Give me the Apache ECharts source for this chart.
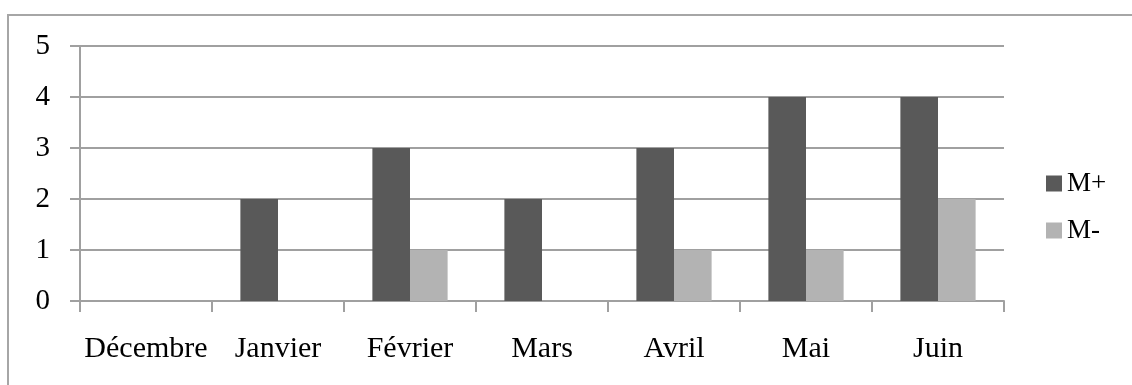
<!DOCTYPE html>
<html><head><meta charset="utf-8">
<script src="https://cdn.jsdelivr.net/npm/echarts@6/dist/echarts.min.js"></script>
<style>html,body{margin:0;padding:0;background:#fff}#c{width:1132px;height:385px}</style>
</head><body><div id="c"></div>
<script>
const categories = ['Décembre','Janvier','Février','Mars','Avril','Mai','Juin'];
const mPlus = [0,2,3,2,3,4,4];
const mMinus = [0,0,1,0,1,1,2];
const seriesNames = ['M+','M-'];
const font = '"Liberation Serif","Times New Roman",serif';
const chart = echarts.init(document.getElementById('c'));
chart.setOption({
  animation:false,
  backgroundColor:'#fff',
  graphic:[{type:'rect',shape:{x:8,y:15,width:1140,height:400},style:{fill:'none',stroke:'#a6a6a6',lineWidth:2},silent:true,z:-1}],
  grid:{left:80,right:128,top:46,bottom:84,containLabel:false},
  legend:{orient:'vertical',left:1046,top:170,padding:0,itemWidth:16,itemHeight:16,itemGap:20,icon:'rect',
    textStyle:{fontFamily:font,fontSize:27,color:'#000'},data:seriesNames},
  xAxis:{type:'category',data:categories,
    axisLine:{lineStyle:{color:'#a0a0a0',width:2}},
    axisTick:{show:true,length:11,alignWithLabel:false,lineStyle:{color:'#a0a0a0',width:2}},
    axisLabel:{fontFamily:font,fontSize:30,color:'#000',margin:33,interval:0}},
  yAxis:{type:'value',min:0,max:5,interval:1,
    axisLine:{show:true,lineStyle:{color:'#a0a0a0',width:2}},
    axisTick:{show:true,length:10,lineStyle:{color:'#a0a0a0',width:2}},
    splitLine:{lineStyle:{color:'#a0a0a0',width:2}},
    axisLabel:{fontFamily:font,fontSize:29,color:'#000',margin:30}},
  series:[
    {name:seriesNames[0],type:'bar',data:mPlus,itemStyle:{color:'#595959'},barGap:'0%',barCategoryGap:'43%'},
    {name:seriesNames[1],type:'bar',data:mMinus,itemStyle:{color:'#b3b3b3'},barGap:'0%',barCategoryGap:'43%'}
  ]
});
</script></body></html>
